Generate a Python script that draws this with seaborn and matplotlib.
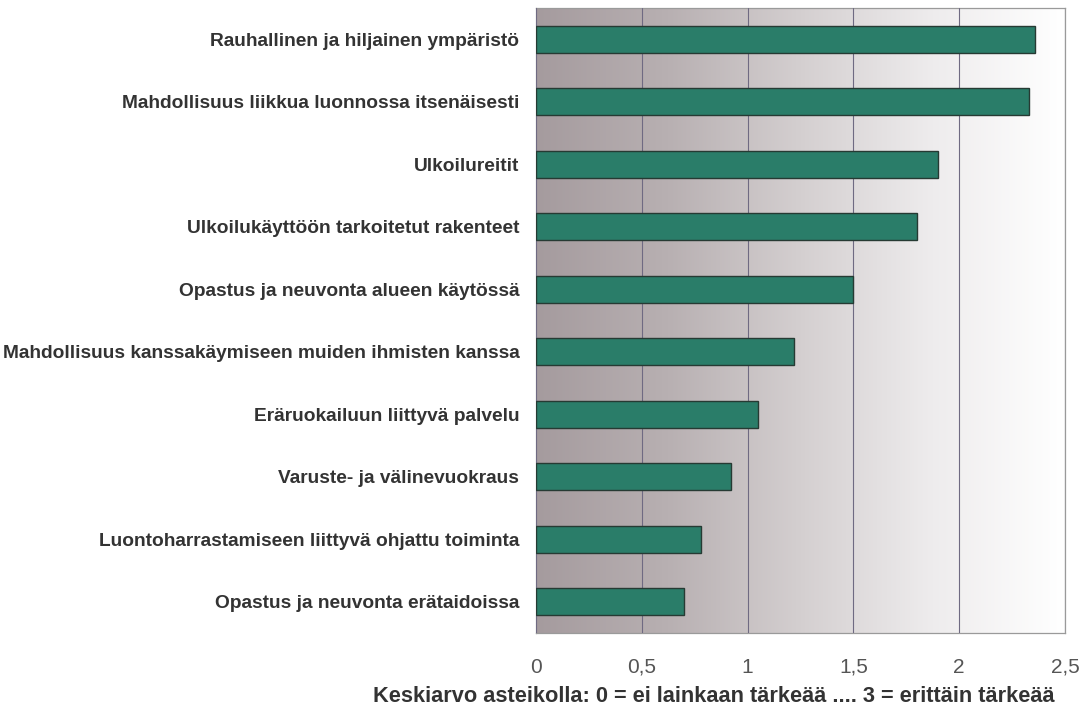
import matplotlib
matplotlib.use("Agg")
import matplotlib.pyplot as plt
import numpy as np
import pandas as pd
import seaborn as sns
from matplotlib.colors import LinearSegmentedColormap
from matplotlib.ticker import FixedLocator, FuncFormatter

categories = [
    "Rauhallinen ja hiljainen ympäristö",
    "Mahdollisuus liikkua luonnossa itsenäisesti",
    "Ulkoilureitit",
    "Ulkoilukäyttöön tarkoitetut rakenteet",
    "Opastus ja neuvonta alueen käytössä",
    "Mahdollisuus kanssakäymiseen muiden ihmisten kanssa",
    "Eräruokailuun liittyvä palvelu",
    "Varuste- ja välinevuokraus",
    "Luontoharrastamiseen liittyvä ohjattu toiminta",
    "Opastus ja neuvonta erätaidoissa",
]
means = [2.36, 2.33, 1.90, 1.80, 1.50, 1.22, 1.05, 0.92, 0.78, 0.70]
x_ticks = [0, 0.5, 1, 1.5, 2, 2.5]
x_label = "Keskiarvo asteikolla: 0 = ei lainkaan tärkeää .... 3 = erittäin tärkeää"

df = pd.DataFrame({"kohde": categories, "keskiarvo": means})

sns.set_style("white")
plt.rcParams["font.family"] = ["Liberation Sans", "DejaVu Sans"]

fig = plt.figure(figsize=(10.88, 7.12), dpi=100)
ax = fig.add_axes([0.4926, 0.111, 0.4862, 0.878])

# taustan liukuväri harmaasta valkoiseen
cmap = LinearSegmentedColormap.from_list(
    "tausta", ["#a59b9e", "#b8b0b2", "#d4cfd0", "#eeeced", "#ffffff"]
)
grad = np.linspace(0, 1, 256).reshape(1, -1)
ax.imshow(grad, extent=(0, 1, 0, 1), transform=ax.transAxes, aspect="auto",
          cmap=cmap, zorder=0)

sns.barplot(data=df, x="keskiarvo", y="kohde", orient="h", color="#2a7d69",
            saturation=1, edgecolor="#263a33", linewidth=1.0, width=0.43,
            ax=ax, zorder=3)

ax.set_xlim(0, 2.5)
ax.set_ylim(len(categories) - 0.5, -0.5)
ax.xaxis.set_major_locator(FixedLocator(x_ticks))
ax.xaxis.set_major_formatter(FuncFormatter(lambda v, p: f"{v:g}".replace(".", ",")))
ax.grid(axis="x", color="#6f6a82", linewidth=0.8)
ax.set_axisbelow(False)
for line in ax.get_xgridlines():
    line.set_zorder(1)

ax.tick_params(axis="x", length=5, color="#999999", labelsize=15,
               labelcolor="#555555", pad=13)
ax.tick_params(axis="y", length=0, labelsize=13.8, labelcolor="#333333", pad=12)
for lab in ax.get_yticklabels():
    lab.set_fontweight("bold")
ax.yaxis.set_minor_locator(FixedLocator(np.arange(-0.5, len(categories), 1.0)))
ax.tick_params(axis="y", which="minor", length=4, color="#999999")

for side in ["top", "right", "left", "bottom"]:
    ax.spines[side].set_visible(True)
    ax.spines[side].set_color("#9a9a9a")
    ax.spines[side].set_linestyle((0, (2, 1)))
    ax.spines[side].set_linewidth(0.9)

ax.set_ylabel("")
ax.set_xlabel("")
fig.text(714 / 1088, 1 - 697 / 712, x_label, fontsize=15.7, fontweight="bold",
         color="#333333", ha="center", va="center")

fig.savefig("out.png", dpi=100)
